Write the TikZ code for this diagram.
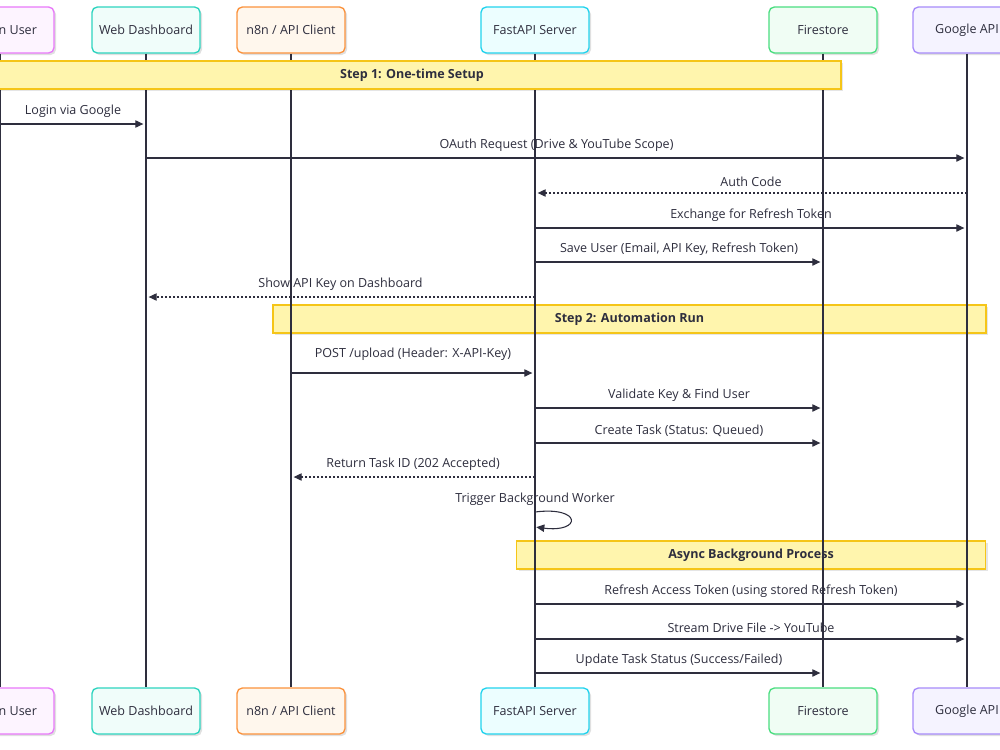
\documentclass[tikz,border=0pt]{standalone}
\usepackage{fontspec}
\setmainfont{Open Sans}
\usepackage{xcolor}
\usepackage{tikz}
\usetikzlibrary{arrows.meta,shadows}
\definecolor{SeqInk}{HTML}{2E2E3E}
\definecolor{UserLine}{HTML}{E879F9}
\definecolor{UserFill}{HTML}{FDF4FF}
\definecolor{WebLine}{HTML}{2DD4BF}
\definecolor{WebFill}{HTML}{F0FDFA}
\definecolor{ClientLine}{HTML}{FB923C}
\definecolor{ClientFill}{HTML}{FFF7ED}
\definecolor{ApiLine}{HTML}{22D3EE}
\definecolor{ApiFill}{HTML}{ECFEFF}
\definecolor{StoreLine}{HTML}{4ADE80}
\definecolor{StoreFill}{HTML}{F0FDF4}
\definecolor{GoogleLine}{HTML}{A78BFA}
\definecolor{GoogleFill}{HTML}{F5F3FF}
\definecolor{NoteLine}{HTML}{F5C518}
\definecolor{NoteFill}{HTML}{FFF5AD}
\tikzset{
  actor/.style={draw,rounded corners=4pt,line width=1pt,minimum width=81pt,minimum height=34.5pt,
    font=\fontsize{9.4}{11}\selectfont,text=SeqInk,
    drop shadow={shadow xshift=1.5pt,shadow yshift=-1.5pt,opacity=0.12,fill=black}},
  human/.style={actor,draw=UserLine,fill=UserFill},
  web/.style={actor,draw=WebLine,fill=WebFill},
  client/.style={actor,draw=ClientLine,fill=ClientFill},
  server/.style={actor,draw=ApiLine,fill=ApiFill},
  store/.style={actor,draw=StoreLine,fill=StoreFill},
  google/.style={actor,draw=GoogleLine,fill=GoogleFill},
  note/.style={draw=NoteLine,fill=NoteFill,line width=0.9pt,minimum height=21pt,
    font=\fontsize{9.4}{11}\selectfont\bfseries,text=SeqInk,
    drop shadow={shadow xshift=1.5pt,shadow yshift=-1.5pt,opacity=0.10,fill=black}},
  life/.style={draw=SeqInk,line width=0.9pt},
  msg/.style={-{Triangle[length=6pt,width=5.5pt]},draw=SeqInk,line width=0.8pt,shorten >=2pt},
  reply/.style={msg,dash pattern=on 1.5pt off 1.5pt},
  lbl/.style={font=\fontsize{9.4}{11}\selectfont,text=SeqInk,midway,above=1pt}
}
\begin{document}
\begin{tikzpicture}[x=0.75pt,y=-0.75pt]
  \useasboundingbox[fill=white] (0,0) rectangle (1000,750);
  % participants, top and bottom
  \node[human] (userT) at (0,30) {Human User};
  \node[web] (webT) at (146,30) {Web Dashboard};
  \node[client] (clientT) at (291,30) {n8n / API Client};
  \node[server] (fastT) at (535,30) {FastAPI Server};
  \node[store] (fireT) at (823,30) {Firestore};
  \node[google] (googT) at (967,30) {Google API};
  \node[human] (userB) at (0,711) {Human User};
  \node[web] (webB) at (146,711) {Web Dashboard};
  \node[client] (clientB) at (291,711) {n8n / API Client};
  \node[server] (fastB) at (535,711) {FastAPI Server};
  \node[store] (fireB) at (823,711) {Firestore};
  \node[google] (googB) at (967,711) {Google API};
  % notes behind the lifelines
  \node[note,minimum width=534.75pt] (stepTwo) at (629.5,319) {Step 2: Automation Run};
  \node[note,minimum width=351.75pt] (async) at (751,555) {Async Background Process};
  % lifelines
  \draw[life] (userT) -- (userB); \draw[life] (webT) -- (webB); \draw[life] (clientT) -- (clientB);
  \draw[life] (fastT) -- (fastB); \draw[life] (fireT) -- (fireB); \draw[life] (googT) -- (googB);
  \node[note,minimum width=643.5pt] (stepOne) at (412,75) {Step 1: One-time Setup};
  % step 1 messages
  \draw[msg] (userT |- 0,124) -- node[lbl] {Login via Google} (webT |- 0,124);
  \draw[msg] (webT |- 0,158) -- node[lbl] {OAuth Request (Drive \& YouTube Scope)} (googT |- 0,158);
  \draw[reply] (googT |- 0,193) -- node[lbl] {Auth Code} (fastT |- 0,193);
  \draw[msg] (fastT |- 0,228) -- node[lbl] {Exchange for Refresh Token} (googT |- 0,228);
  \draw[msg] (fastT |- 0,262) -- node[lbl] {Save User (Email, API Key, Refresh Token)} (fireT |- 0,262);
  \draw[reply] (fastT |- 0,297) -- node[lbl] {Show API Key on Dashboard} (webT |- 0,297);
  % step 2 messages
  \draw[msg] (clientT |- 0,373) -- node[lbl,above=5pt] {POST /upload (Header: X-API-Key)} (fastT |- 0,373);
  \draw[msg] (fastT |- 0,408) -- node[lbl] {Validate Key \& Find User} (fireT |- 0,408);
  \draw[msg] (fastT |- 0,443) -- node[lbl] {Create Task (Status: Queued)} (fireT |- 0,443);
  \draw[reply] (fastT |- 0,477) -- node[lbl] {Return Task ID (202 Accepted)} (clientT |- 0,477);
  \node[font=\fontsize{9.4}{11}\selectfont,text=SeqInk] (trigger) at (535,499) {Trigger Background Worker};
  \draw[msg,shorten >=1pt] (fastT |- 0,512) .. controls (582,506) and (582,533) .. (fastT |- 0,527);
  % async messages
  \draw[msg] (fastT |- 0,604) -- node[lbl] {Refresh Access Token (using stored Refresh Token)} (googT |- 0,604);
  \draw[msg] (fastT |- 0,639) -- node[lbl] {Stream Drive File -> YouTube} (googT |- 0,639);
  \draw[msg] (fastT |- 0,673) -- node[lbl] {Update Task Status (Success/Failed)} (fireT |- 0,673);
\end{tikzpicture}
\end{document}
